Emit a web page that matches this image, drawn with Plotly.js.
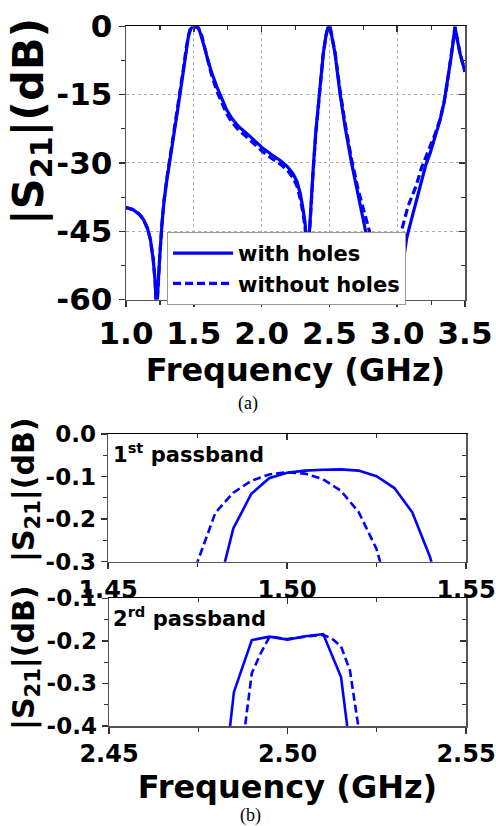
<!DOCTYPE html>
<html>
<head>
<meta charset="utf-8">
<script src="https://cdn.plot.ly/plotly-3.0.1.min.js"></script>
<style>html,body{margin:0;padding:0;background:#fff;}#chart{width:496px;height:826px;}</style>
</head>
<body>
<div id="chart"></div>
<script>
// ---------- Panel (a): |S21| vs frequency, 1.0 - 3.5 GHz ----------
const seriesNames = ['with holes', 'without holes'];

const freqWith = [1.00,1.05,1.10,1.13,1.16,1.18,1.20,1.215,1.225,1.235,1.25,1.265,1.28,1.30,1.325,1.35,1.375,1.40,1.425,1.445,1.46,1.475,1.49,1.51,1.53,1.545,1.56,1.58,1.60,1.63,1.67,1.70,1.74,1.78,1.83,1.89,1.95,2.01,2.07,2.14,2.19,2.23,2.26,2.285,2.305,2.32,2.333,2.34,2.347,2.36,2.38,2.40,2.43,2.455,2.475,2.49,2.505,2.52,2.541,2.578,2.615,2.664,2.713,2.768,2.82,2.87,2.93,2.98,3.02,3.045,3.07,3.10,3.13,3.168,3.21,3.242,3.28,3.316,3.345,3.365,3.385,3.402,3.415,3.426,3.44,3.463,3.50];
const s21With = [-39.8,-40.2,-41.3,-42.5,-44.5,-46.8,-51,-56,-63,-57,-50,-43.5,-38.5,-34,-29.4,-24.5,-19.5,-14.5,-9.5,-5,-2.3,-0.7,-0.1,-0.1,-0.3,-1.2,-2.6,-4.8,-7,-10,-13.3,-15.5,-18.2,-20.2,-22,-23.5,-25.2,-26.8,-28.1,-29.5,-30.8,-32.3,-34,-36.7,-40,-43,-48,-56,-48,-41,-31.5,-23,-13,-5.9,-2,-0.2,-0.2,-2.5,-5.9,-14.7,-22,-30.1,-37.4,-45.1,-52,-58,-66,-64,-57,-51.5,-46.5,-43,-39.5,-34.8,-30.5,-27.9,-24.2,-20.6,-16.8,-13.3,-9.5,-5.9,-2.8,-0.1,-2.5,-5.9,-10];

const freqWithout = [1.00,1.05,1.10,1.13,1.16,1.18,1.20,1.215,1.225,1.235,1.25,1.265,1.28,1.30,1.325,1.35,1.375,1.40,1.425,1.445,1.46,1.475,1.49,1.51,1.53,1.545,1.56,1.58,1.60,1.63,1.67,1.70,1.74,1.78,1.83,1.89,1.95,2.01,2.07,2.14,2.19,2.23,2.26,2.285,2.305,2.32,2.333,2.34,2.347,2.36,2.38,2.40,2.43,2.455,2.475,2.49,2.505,2.52,2.541,2.578,2.615,2.664,2.713,2.768,2.80,2.85,2.90,2.95,2.99,3.01,3.035,3.08,3.14,3.18,3.24,3.28,3.316,3.345,3.365,3.385,3.402,3.415,3.426,3.44,3.463,3.50];
const s21Without = [-39.8,-40.2,-41.3,-42.5,-44.5,-46.8,-51,-56,-63,-57,-50,-43.5,-38.3,-33.6,-28.8,-24,-19,-14,-9,-4.6,-2,-0.5,-0.1,-0.1,-0.2,-0.9,-2.2,-4.6,-7.2,-10.6,-14.2,-16.4,-19.1,-21,-22.8,-24.3,-26,-27.6,-28.9,-30.3,-31.6,-33.2,-35,-37.8,-41,-44,-48.5,-56,-48.5,-41.5,-32,-23.5,-13.5,-6,-2,-0.2,-0.2,-2.3,-5.6,-14,-21.2,-29.3,-36,-42,-45.5,-52,-60,-65,-56,-50,-44.5,-39.5,-35,-31,-26.5,-23.6,-20.4,-16.8,-13.3,-9.5,-5.9,-2.8,-0.1,-2.5,-5.9,-10];

// ---------- Panel (b) top: 1st passband ----------
const freqP1With = [1.480,1.485,1.490,1.495,1.500,1.505,1.510,1.515,1.520,1.525,1.530,1.535,1.540,1.545];
const s21P1With = [-0.39,-0.222,-0.141,-0.104,-0.091,-0.086,-0.084,-0.083,-0.086,-0.099,-0.127,-0.184,-0.29,-0.45];
const freqP1Without = [1.470,1.475,1.480,1.485,1.490,1.495,1.500,1.505,1.510,1.515,1.520,1.525,1.530];
const s21P1Without = [-0.62,-0.30,-0.185,-0.138,-0.110,-0.095,-0.090,-0.093,-0.106,-0.133,-0.183,-0.27,-0.42];

// ---------- Panel (b) bottom: 2nd passband ----------
const freqP2With = [2.480,2.485,2.490,2.495,2.500,2.505,2.510,2.515,2.520];
const s21P2With = [-0.69,-0.32,-0.198,-0.190,-0.197,-0.189,-0.184,-0.285,-0.62];
const freqP2Without = [2.485,2.4875,2.490,2.4925,2.495,2.500,2.505,2.510,2.5125,2.515,2.5175,2.520,2.5225];
const s21P2Without = [-0.62,-0.44,-0.276,-0.229,-0.19,-0.196,-0.190,-0.186,-0.195,-0.213,-0.27,-0.385,-0.55];

// tick labels
const xTicksA = [1.0,1.5,2.0,2.5,3.0,3.5];
const xTickTextA = ['1.0','1.5','2.0','2.5','3.0','3.5'];
const yTicksA = [-60,-45,-30,-15,0];
const yTickTextA = ['-60','-45','-30','-15','0'];
const xTicksB1 = [1.45,1.50,1.55];
const xTickTextB1 = ['1.45','1.50','1.55'];
const yTicksB1 = [-0.3,-0.2,-0.1,0];
const yTickTextB1 = ['-0.3','-0.2','-0.1','0.0'];
const xTicksB2 = [2.45,2.50,2.55];
const xTickTextB2 = ['2.45','2.50','2.55'];
const yTicksB2 = [-0.4,-0.3,-0.2,-0.1];
const yTickTextB2 = ['-0.4','-0.3','-0.2','-0.1'];

const BLUE = '#0000ff';
const FONT = 'DejaVu Sans, Liberation Sans, Arial, sans-serif';
const DASH = '8px,4px';

const traces = [
  {x: freqWith, y: s21With, xaxis:'x', yaxis:'y', name: seriesNames[0], mode:'lines',
   line:{color:BLUE, width:3.2}},
  {x: freqWithout, y: s21Without, xaxis:'x', yaxis:'y', name: seriesNames[1], mode:'lines',
   line:{color:BLUE, width:3.2, dash:DASH}},
  {x: freqP1With, y: s21P1With, xaxis:'x2', yaxis:'y2', name: seriesNames[0], mode:'lines',
   line:{color:BLUE, width:2.6}, showlegend:false},
  {x: freqP1Without, y: s21P1Without, xaxis:'x2', yaxis:'y2', name: seriesNames[1], mode:'lines',
   line:{color:BLUE, width:2.6, dash:DASH}, showlegend:false},
  {x: freqP2With, y: s21P2With, xaxis:'x3', yaxis:'y3', name: seriesNames[0], mode:'lines',
   line:{color:BLUE, width:2.6}, showlegend:false},
  {x: freqP2Without, y: s21P2Without, xaxis:'x3', yaxis:'y3', name: seriesNames[1], mode:'lines',
   line:{color:BLUE, width:2.6, dash:DASH}, showlegend:false},
  // empty carriers for the mirrored (top/right) frame axes
  {x: [], y: [], xaxis:'x4', yaxis:'y4', showlegend:false, hoverinfo:'skip'},
  {x: [], y: [], xaxis:'x5', yaxis:'y5', showlegend:false, hoverinfo:'skip'},
  {x: [], y: [], xaxis:'x6', yaxis:'y6', showlegend:false, hoverinfo:'skip'}
];

const domA_x = [126/496, 465/496], domA_y = [1-299.6/826, 1-26.3/826];
const domB1_x = [108/496, 466/496], domB1_y = [1-561.7/826, 1-434/826];
const domB2_x = [109/496, 466/496], domB2_y = [1-726/826, 1-598.3/826];

function baseX(dom, anchor, range, tv, tt, minorD, size, grid){
  return {domain: dom, anchor: anchor, range: range, tickmode:'array', tickvals: tv, ticktext: tt,
    ticks:'outside', ticklen:6, tickwidth:1.5, tickcolor:'#333',
    minor:{dtick:minorD, tick0:range[0], ticks:'outside', ticklen:4, tickwidth:1.2, tickcolor:'#333', showgrid:false},
    showgrid: grid, gridcolor:'#b0b0b0', griddash:'dot', gridwidth:1,
    showline:true, linecolor:'#555', linewidth:1.5, zeroline:false,
    tickfont:{family:FONT, size:size, color:'#000', weight:'bold'}, fixedrange:true};
}
function mirrorAxis(over, side, anchor, range, tv, minorD){
  return {overlaying: over, side: side, anchor: anchor, range: range, tickmode:'array', tickvals: tv,
    ticks:'inside', ticklen:6, tickwidth:1.5, tickcolor:'#333', showticklabels:false,
    minor:{dtick:minorD, tick0:range[0], ticks:'inside', ticklen:4, tickwidth:1.2, tickcolor:'#333', showgrid:false},
    showgrid:false, showline:true, linecolor: side==='top' ? '#000' : '#555', linewidth:1.5, zeroline:false, fixedrange:true};
}

const layout = {
  width:496, height:826, margin:{l:0,r:0,t:0,b:0}, paper_bgcolor:'#fff', plot_bgcolor:'#fff',
  showlegend:true,
  font:{family:FONT, color:'#000'},
  xaxis: Object.assign(baseX(domA_x,'y',[1,3.5],xTicksA,xTickTextA,0.25,31,true),
    {title:{text:'Frequency (GHz)', font:{family:FONT,size:32,weight:'bold',color:'#000'}, standoff:4}}),
  yaxis: baseX(domA_y,'x',[-60,0],yTicksA,yTickTextA,7.5,31,true),
  xaxis2: baseX(domB1_x,'y2',[1.45,1.55],xTicksB1,xTickTextB1,0.025,24,false),
  yaxis2: baseX(domB1_y,'x2',[-0.3,0],yTicksB1,yTickTextB1,0.05,23,false),
  xaxis3: Object.assign(baseX(domB2_x,'y3',[2.45,2.55],xTicksB2,xTickTextB2,0.025,24,false),
    {title:{text:'Frequency (GHz)', font:{family:FONT,size:32,weight:'bold',color:'#000'}, standoff:0}}),
  yaxis3: baseX(domB2_y,'x3',[-0.4,-0.1],yTicksB2,yTickTextB2,0.05,23,false),
  xaxis4: mirrorAxis('x','top','y4',[1,3.5],xTicksA,0.25),
  yaxis4: mirrorAxis('y','right','x4',[-60,0],yTicksA,7.5),
  xaxis5: mirrorAxis('x2','top','y5',[1.45,1.55],xTicksB1,0.025),
  yaxis5: mirrorAxis('y2','right','x5',[-0.3,0],yTicksB1,0.05),
  xaxis6: mirrorAxis('x3','top','y6',[2.45,2.55],xTicksB2,0.025),
  yaxis6: mirrorAxis('y3','right','x6',[-0.4,-0.1],yTicksB2,0.05),
  legend:{x:167/496, y:1-232/826, xanchor:'left', yanchor:'top', bgcolor:'#fff',
    bordercolor:'#999', borderwidth:1, font:{family:FONT, size:21, color:'#000', weight:'bold'},
    itemwidth:60, tracegroupgap:0},
  annotations:[
    {text:'|S<sub>21</sub>|(dB)', xref:'paper', yref:'paper', x:31/496, y:1-122/826, textangle:-90,
     showarrow:false, xanchor:'center', yanchor:'middle', font:{family:FONT, size:43, weight:'bold', color:'#000'}},
    {text:'|S<sub>21</sub>|(dB)', xref:'paper', yref:'paper', x:25/496, y:1-490/826, textangle:-90,
     showarrow:false, xanchor:'center', yanchor:'middle', font:{family:FONT, size:30, weight:'bold', color:'#000'}},
    {text:'|S<sub>21</sub>|(dB)', xref:'paper', yref:'paper', x:25/496, y:1-658/826, textangle:-90,
     showarrow:false, xanchor:'center', yanchor:'middle', font:{family:FONT, size:30, weight:'bold', color:'#000'}},
    {text:'1<sup>st</sup> passband', xref:'paper', yref:'paper', x:111/496, y:1-453/826,
     showarrow:false, xanchor:'left', yanchor:'middle', font:{family:FONT, size:21, weight:'bold', color:'#000'}},
    {text:'2<sup>rd</sup> passband', xref:'paper', yref:'paper', x:111/496, y:1-617/826,
     showarrow:false, xanchor:'left', yanchor:'middle', font:{family:FONT, size:21, weight:'bold', color:'#000'}},
    {text:'(a)', xref:'paper', yref:'paper', x:248/496, y:1-403/826,
     showarrow:false, xanchor:'center', yanchor:'middle', font:{family:'Liberation Serif, Times New Roman, serif', size:18, color:'#000'}},
    {text:'(b)', xref:'paper', yref:'paper', x:250/496, y:1-815/826,
     showarrow:false, xanchor:'center', yanchor:'middle', font:{family:'Liberation Serif, Times New Roman, serif', size:18, color:'#000'}}
  ]
};

Plotly.newPlot('chart', traces, layout, {staticPlot:true, displayModeBar:false});
</script>
</body>
</html>
